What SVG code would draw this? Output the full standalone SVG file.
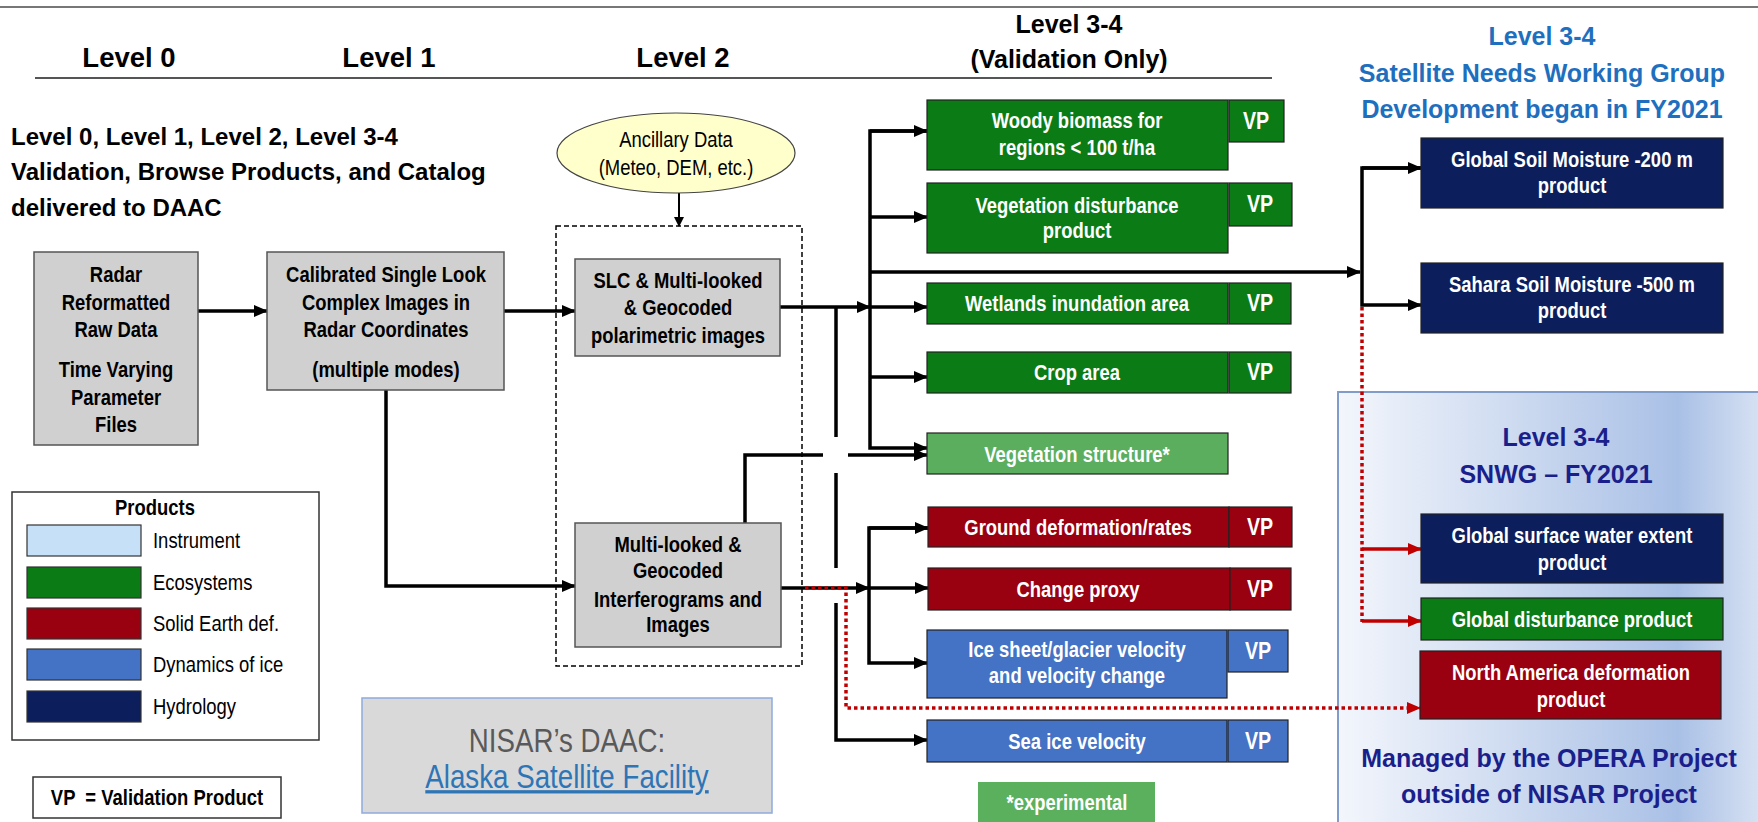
<svg xmlns="http://www.w3.org/2000/svg" width="1758" height="822" viewBox="0 0 1758 822">
<defs>
<marker id="ah" markerWidth="14" markerHeight="12" refX="13" refY="6" orient="auto" markerUnits="userSpaceOnUse"><path d="M0,0 L14,6 L0,12 z" fill="#000"/></marker>
<marker id="ahs" markerWidth="10" markerHeight="10" refX="9" refY="5" orient="auto" markerUnits="userSpaceOnUse"><path d="M0,0 L10,5 L0,10 z" fill="#000"/></marker>
<marker id="ahr" markerWidth="14" markerHeight="12" refX="13" refY="6" orient="auto" markerUnits="userSpaceOnUse"><path d="M0,0 L14,6 L0,12 z" fill="#C00000"/></marker>
<linearGradient id="pg" x1="0" y1="0" x2="1" y2="0">
<stop offset="0" stop-color="#F3F6FC"/>
<stop offset="0.45" stop-color="#CAD8EF"/>
<stop offset="0.8" stop-color="#A9C0E6"/>
<stop offset="1" stop-color="#D8E2F3"/>
</linearGradient>
<style>
.w{font-family:"Liberation Sans",Arial,sans-serif}
.n{font-family:"Liberation Sans",Arial,sans-serif}
.b{font-weight:bold}
.c{text-anchor:middle}
.hd{font-size:27.5px;font-weight:bold;fill:#000}
.h2{font-size:25px;font-weight:bold;fill:#000}
.bl{font-size:25px;font-weight:bold;fill:#1F6FBF}
.nv{font-size:25px;font-weight:bold;fill:#1A1F8C}
.tx{font-size:22.5px}
.wt{fill:#fff}
.gray{fill:#D0D0D0;stroke:#555;stroke-width:1.5}
.eco{fill:#0B7B16;stroke:#222;stroke-width:1.2}
.eco2{fill:#5BAE5E;stroke:#222;stroke-width:1.2}
.sed{fill:#990010;stroke:#222;stroke-width:1.2}
.ice{fill:#4472C4;stroke:#222;stroke-width:1.2}
.hyd{fill:#0C1F5C;stroke:#222;stroke-width:1.2}
.ln{fill:none;stroke:#000;stroke-width:3.5}
.rd{fill:none;stroke:#C00000;stroke-width:3.5;stroke-dasharray:3.5 3}
.rs{fill:none;stroke:#C00000;stroke-width:3.5}
</style>
</defs>
<rect x="0" y="0" width="1758" height="822" fill="#fff"/>
<rect x="1338" y="392" width="425" height="440" fill="url(#pg)" stroke="#7F9CCB" stroke-width="2"/>

<line x1="0" y1="7" x2="1758" y2="7" stroke="#777" stroke-width="2"/>
<line x1="35" y1="78" x2="1272" y2="78" stroke="#555" stroke-width="2"/>

<g id="headers">
<text class="w hd c" x="129" y="67">Level 0</text>
<text class="w hd c" x="389" y="67">Level 1</text>
<text class="w hd c" x="683" y="67">Level 2</text>
<text class="w h2 c" x="1069" y="33">Level 3-4</text>
<text class="w h2 c" x="1069" y="68">(Validation Only)</text>
<text class="w bl c" x="1542" y="45">Level 3-4</text>
<text class="w bl c" x="1542" y="82">Satellite Needs Working Group</text>
<text class="w bl c" x="1542" y="118">Development began in FY2021</text>
<text class="w b" x="11" y="145" font-size="24">Level 0, Level 1, Level 2, Level 3-4</text>
<text class="w b" x="11" y="180" font-size="24">Validation, Browse Products, and Catalog</text>
<text class="w b" x="11" y="216" font-size="24">delivered to DAAC</text>
</g>

<g id="connectors">
<line class="ln" x1="198" y1="311" x2="267" y2="311" marker-end="url(#ah)"/>
<line class="ln" x1="504" y1="311" x2="575" y2="311" marker-end="url(#ah)"/>
<polyline class="ln" points="386,390 386,586 575,586" marker-end="url(#ah)"/>
<line x1="679" y1="193" x2="679" y2="226" stroke="#000" stroke-width="2" marker-end="url(#ahs)"/>
<line class="ln" x1="780" y1="307" x2="870" y2="307" marker-end="url(#ah)"/>
<polyline class="ln" points="927,131 870,131 870,448 927,448" marker-end="url(#ah)"/>
<line class="ln" x1="870" y1="131" x2="927" y2="131" marker-end="url(#ah)"/>
<line class="ln" x1="870" y1="217" x2="927" y2="217" marker-end="url(#ah)"/>
<line class="ln" x1="870" y1="272" x2="1360" y2="272" marker-end="url(#ah)"/>
<line class="ln" x1="870" y1="307" x2="927" y2="307" marker-end="url(#ah)"/>
<line class="ln" x1="870" y1="377" x2="927" y2="377" marker-end="url(#ah)"/>
<line class="ln" x1="836" y1="307" x2="836" y2="437"/>
<line class="ln" x1="836" y1="473" x2="836" y2="568"/>
<polyline class="ln" points="836,603 836,740 927,740" marker-end="url(#ah)"/>
<polyline class="ln" points="745,547 745,455 823,455"/>
<line class="ln" x1="848" y1="455" x2="927" y2="455" marker-end="url(#ah)"/>
<line class="ln" x1="781" y1="588" x2="869" y2="588" marker-end="url(#ah)"/>
<polyline class="ln" points="928,528 869,528 869,663 927,663" marker-end="url(#ah)"/>
<line class="ln" x1="869" y1="528" x2="928" y2="528" marker-end="url(#ah)"/>
<line class="ln" x1="869" y1="588" x2="928" y2="588" marker-end="url(#ah)"/>
<polyline class="ln" points="1421,168 1362,168 1362,305 1421,305" marker-end="url(#ah)"/>
<line class="ln" x1="1362" y1="168" x2="1421" y2="168" marker-end="url(#ah)"/>
<polyline class="rd" points="805,588 846,588 846,708 1420,708" marker-end="url(#ahr)"/>
<line class="rd" x1="1362" y1="307" x2="1362" y2="622"/>
<line class="rs" x1="1362" y1="549" x2="1421" y2="549" marker-end="url(#ahr)"/>
<line class="rs" x1="1362" y1="621" x2="1421" y2="621" marker-end="url(#ahr)"/>
</g>

<g id="radar">
<rect class="gray" x="34" y="252" width="164" height="193"/>
<text class="n b tx c" transform="matrix(.82 0 0 1 116 282)">Radar</text>
<text class="n b tx c" transform="matrix(.82 0 0 1 116 310)">Reformatted</text>
<text class="n b tx c" transform="matrix(.82 0 0 1 116 337)">Raw Data</text>
<text class="n b tx c" transform="matrix(.82 0 0 1 116 377)">Time Varying</text>
<text class="n b tx c" transform="matrix(.82 0 0 1 116 405)">Parameter</text>
<text class="n b tx c" transform="matrix(.82 0 0 1 116 432)">Files</text>
</g>
<g id="calibrated">
<rect class="gray" x="267" y="252" width="237" height="138"/>
<text class="n b tx c" transform="matrix(.82 0 0 1 386 282)">Calibrated Single Look</text>
<text class="n b tx c" transform="matrix(.82 0 0 1 386 310)">Complex Images in</text>
<text class="n b tx c" transform="matrix(.82 0 0 1 386 337)">Radar Coordinates</text>
<text class="n b tx c" transform="matrix(.82 0 0 1 386 377)">(multiple modes)</text>
</g>
<g id="ancillary">
<ellipse cx="676" cy="153" rx="119" ry="40" fill="#FFFFCC" stroke="#444" stroke-width="1.2"/>
<text class="n tx c" transform="matrix(.82 0 0 1 676 147)">Ancillary Data</text>
<text class="n tx c" transform="matrix(.82 0 0 1 676 175)">(Meteo, DEM, etc.)</text>
</g>
<g id="level2group">
<rect x="556" y="226" width="246" height="440" fill="none" stroke="#000" stroke-width="1.5" stroke-dasharray="5 3"/>
</g>
<g id="slc">
<rect class="gray" x="575" y="259" width="205" height="97"/>
<text class="n b tx c" transform="matrix(.82 0 0 1 678 288)">SLC &amp; Multi-looked</text>
<text class="n b tx c" transform="matrix(.82 0 0 1 678 315)">&amp; Geocoded</text>
<text class="n b tx c" transform="matrix(.82 0 0 1 678 343)">polarimetric images</text>
</g>
<g id="interferograms">
<rect class="gray" x="575" y="523" width="206" height="124"/>
<text class="n b tx c" transform="matrix(.82 0 0 1 678 552)">Multi-looked &amp;</text>
<text class="n b tx c" transform="matrix(.82 0 0 1 678 578)">Geocoded</text>
<text class="n b tx c" transform="matrix(.82 0 0 1 678 607)">Interferograms and</text>
<text class="n b tx c" transform="matrix(.82 0 0 1 678 632)">Images</text>
</g>

<g id="woody">
<rect class="eco" x="927" y="100" width="301" height="70"/>
<text class="n b tx c wt" transform="matrix(.82 0 0 1 1077 128)">Woody biomass for</text>
<text class="n b tx c wt" transform="matrix(.82 0 0 1 1077 155)">regions &lt; 100 t/ha</text>
<rect class="eco" x="1229" y="100" width="55" height="42"/>
<text class="n b c wt" font-size="24" transform="matrix(.82 0 0 1 1256 129)">VP</text>
</g>
<g id="vegdist">
<rect class="eco" x="927" y="183" width="301" height="70"/>
<text class="n b tx c wt" transform="matrix(.82 0 0 1 1077 213)">Vegetation disturbance</text>
<text class="n b tx c wt" transform="matrix(.82 0 0 1 1077 238)">product</text>
<rect class="eco" x="1229" y="183" width="63" height="43"/>
<text class="n b c wt" font-size="24" transform="matrix(.82 0 0 1 1260 212)">VP</text>
</g>
<g id="wetlands">
<rect class="eco" x="927" y="283" width="301" height="41"/>
<text class="n b tx c wt" transform="matrix(.82 0 0 1 1077 311)">Wetlands inundation area</text>
<rect class="eco" x="1229" y="283" width="62" height="41"/>
<text class="n b c wt" font-size="24" transform="matrix(.82 0 0 1 1260 311)">VP</text>
</g>
<g id="crop">
<rect class="eco" x="927" y="352" width="301" height="41"/>
<text class="n b tx c wt" transform="matrix(.82 0 0 1 1077 380)">Crop area</text>
<rect class="eco" x="1229" y="352" width="62" height="41"/>
<text class="n b c wt" font-size="24" transform="matrix(.82 0 0 1 1260 380)">VP</text>
</g>
<g id="vegstructure">
<rect class="eco2" x="927" y="433" width="301" height="41"/>
<text class="n b tx c wt" transform="matrix(.82 0 0 1 1077 462)">Vegetation structure*</text>
</g>
<g id="ground">
<rect class="sed" x="928" y="507" width="301" height="40"/>
<text class="n b tx c wt" transform="matrix(.82 0 0 1 1078 535)">Ground deformation/rates</text>
<rect class="sed" x="1229" y="507" width="63" height="40"/>
<text class="n b c wt" font-size="24" transform="matrix(.82 0 0 1 1260 535)">VP</text>
</g>
<g id="change">
<rect class="sed" x="928" y="568" width="302" height="42"/>
<text class="n b tx c wt" transform="matrix(.82 0 0 1 1078 597)">Change proxy</text>
<rect class="sed" x="1230" y="568" width="61" height="42"/>
<text class="n b c wt" font-size="24" transform="matrix(.82 0 0 1 1260 597)">VP</text>
</g>
<g id="icesheet">
<rect class="ice" x="927" y="630" width="300" height="68"/>
<text class="n b tx c wt" transform="matrix(.82 0 0 1 1077 657)">Ice sheet/glacier velocity</text>
<text class="n b tx c wt" transform="matrix(.82 0 0 1 1077 683)">and velocity change</text>
<rect class="ice" x="1228" y="630" width="60" height="42"/>
<text class="n b c wt" font-size="24" transform="matrix(.82 0 0 1 1258 659)">VP</text>
</g>
<g id="seaice">
<rect class="ice" x="927" y="720" width="300" height="42"/>
<text class="n b tx c wt" transform="matrix(.82 0 0 1 1077 749)">Sea ice velocity</text>
<rect class="ice" x="1228" y="720" width="60" height="42"/>
<text class="n b c wt" font-size="24" transform="matrix(.82 0 0 1 1258 749)">VP</text>
</g>
<g id="experimental">
<rect x="978" y="782" width="177" height="45" fill="#5BB05E"/>
<text class="n b tx c wt" transform="matrix(.82 0 0 1 1067 810)">*experimental</text>
</g>

<g id="soil200">
<rect class="hyd" x="1421" y="138" width="302" height="70"/>
<text class="n b tx c wt" transform="matrix(.82 0 0 1 1572 167)">Global Soil Moisture -200 m</text>
<text class="n b tx c wt" transform="matrix(.82 0 0 1 1572 193)">product</text>
</g>
<g id="soil500">
<rect class="hyd" x="1421" y="263" width="302" height="70"/>
<text class="n b tx c wt" transform="matrix(.82 0 0 1 1572 292)">Sahara Soil Moisture -500 m</text>
<text class="n b tx c wt" transform="matrix(.82 0 0 1 1572 318)">product</text>
</g>
<g id="snwg">
<text class="w nv c" x="1556" y="446">Level 3-4</text>
<text class="w nv c" x="1556" y="483">SNWG – FY2021</text>
<text class="w nv c" x="1549" y="767">Managed by the OPERA Project</text>
<text class="w nv c" x="1549" y="803">outside of NISAR Project</text>
</g>
<g id="surfacewater">
<rect class="hyd" x="1421" y="514" width="302" height="69"/>
<text class="n b tx c wt" transform="matrix(.82 0 0 1 1572 543)">Global surface water extent</text>
<text class="n b tx c wt" transform="matrix(.82 0 0 1 1572 570)">product</text>
</g>
<g id="globaldist">
<rect class="eco" x="1421" y="598" width="302" height="42"/>
<text class="n b tx c wt" transform="matrix(.82 0 0 1 1572 627)">Global disturbance product</text>
</g>
<g id="nadeformation">
<rect class="sed" x="1420" y="651" width="301" height="68"/>
<text class="n b tx c wt" transform="matrix(.82 0 0 1 1571 680)">North America deformation</text>
<text class="n b tx c wt" transform="matrix(.82 0 0 1 1571 707)">product</text>
</g>

<g id="legend">
<rect x="12" y="492" width="307" height="248" fill="#fff" stroke="#333" stroke-width="1.5"/>
<text class="n b tx c" transform="matrix(.82 0 0 1 155 515)">Products</text>
<rect x="27" y="525" width="114" height="31" fill="#C6E0F7" stroke="#333" stroke-width="1.2"/>
<text class="n tx" transform="matrix(.82 0 0 1 153 548)">Instrument</text>
<rect x="27" y="567" width="114" height="31" fill="#0B7B16" stroke="#333" stroke-width="1.2"/>
<text class="n tx" transform="matrix(.82 0 0 1 153 590)">Ecosystems</text>
<rect x="27" y="608" width="114" height="31" fill="#990010" stroke="#333" stroke-width="1.2"/>
<text class="n tx" transform="matrix(.82 0 0 1 153 631)">Solid Earth def.</text>
<rect x="27" y="649" width="114" height="31" fill="#4472C4" stroke="#333" stroke-width="1.2"/>
<text class="n tx" transform="matrix(.82 0 0 1 153 672)">Dynamics of ice</text>
<rect x="27" y="691" width="114" height="31" fill="#0C1F5C" stroke="#333" stroke-width="1.2"/>
<text class="n tx" transform="matrix(.82 0 0 1 153 714)">Hydrology</text>
</g>
<g id="vpnote">
<rect x="33" y="777" width="248" height="41" fill="#fff" stroke="#333" stroke-width="1.5"/>
<text class="n b tx c" transform="matrix(.82 0 0 1 157 805)" xml:space="preserve">VP  = Validation Product</text>
</g>
<g id="daac">
<rect x="362" y="698" width="410" height="115" fill="#D9D9D9" stroke="#8FAADC" stroke-width="1.5"/>
<text class="n c" font-size="33" fill="#595959" transform="matrix(.84 0 0 1 567 752)">NISAR’s DAAC:</text>
<text class="n c" font-size="33" fill="#2E75B6" text-decoration="underline" transform="matrix(.84 0 0 1 567 788)">Alaska Satellite Facility</text>
</g>
</svg>
